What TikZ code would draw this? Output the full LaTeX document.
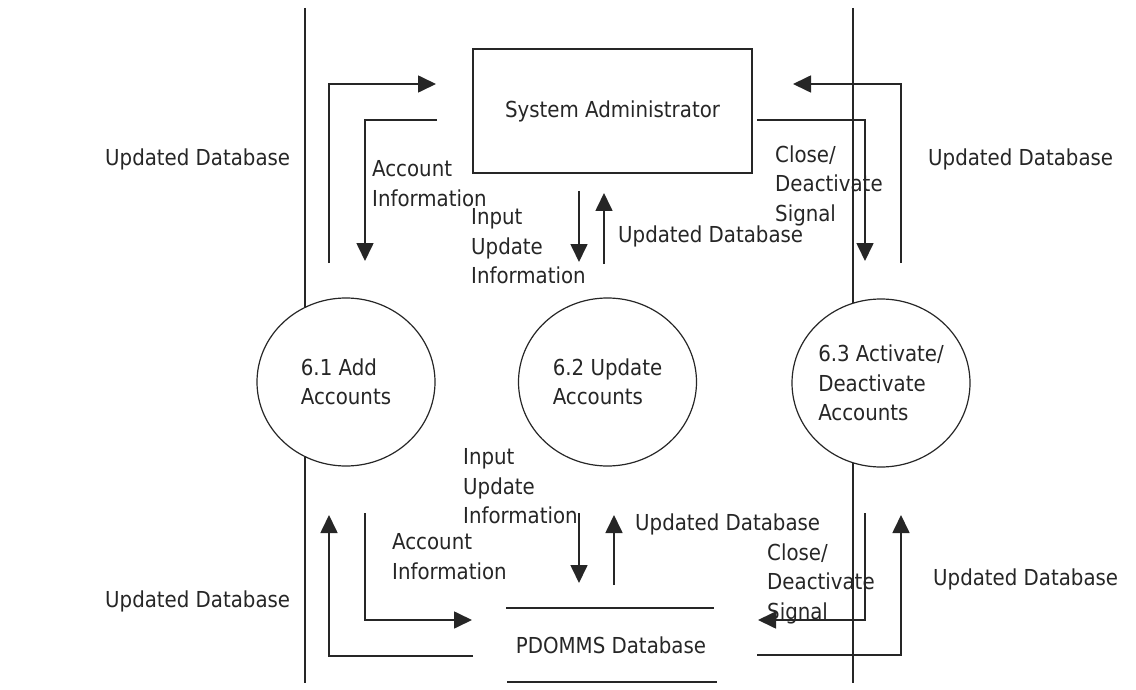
\documentclass[tikz,border=0pt]{standalone}
\usepackage{fontspec}
\setmainfont{DejaVu Sans Condensed}
\usetikzlibrary{arrows.meta,shapes.geometric}
\definecolor{ink}{HTML}{262626}
\begin{document}
\begin{tikzpicture}[x=1pt,y=-1pt,
  flow/.style={draw=ink,line width=1.7pt,-{Triangle[length=18pt,width=17pt]}},
  bound/.style={draw=ink,line width=1.4pt},
  txt/.style={font=\fontsize{22}{29.5}\selectfont,text=ink,inner sep=0pt,align=left},
  proc/.style={ellipse,draw=ink,line width=1.2pt,fill=white,minimum width=178pt,minimum height=168pt,inner sep=0pt,font=\fontsize{22}{29.5}\selectfont,align=left,text=ink},
  ent/.style={rectangle,draw=ink,line width=1.4pt,minimum width=279pt,minimum height=124pt,inner sep=0pt,font=\fontsize{22}{29.5}\selectfont,text=ink},
  store/.style={draw=ink,line width=1.6pt}
  ]
\useasboundingbox (0,0) rectangle (1136,690);
% boundary lines
\coordinate (bl1) at (305,8);
\coordinate (bl2) at (305,683);
\coordinate (br1) at (853,8);
\coordinate (br2) at (853,683);
\draw[bound] (bl1) -- (bl2);
\draw[bound] (br1) -- (br2);
% nodes
\node[ent] (sa) at (612.5,111) {System Administrator};
\node[proc] (p1) at (346,382) {6.1 Add\\Accounts};
\node[proc] (p2) at (607.5,382) {6.2 Update\\Accounts};
\node[proc] (p3) at (881,383) {6.3 Activate/\\Deactivate\\Accounts};
\node[txt] (db) at (611,645) {PDOMMS Database};
\coordinate (dbt1) at (506,608);
\coordinate (dbt2) at (714,608);
\coordinate (dbb1) at (507,682);
\coordinate (dbb2) at (717,682);
\draw[store] (dbt1) -- (dbt2);
\draw[store] (dbb1) -- (dbb2);
% flow end points
\coordinate (a1s) at (329,263); \coordinate (a1e) at (436,84);
\coordinate (a2s) at (437,120); \coordinate (a2e) at (365,261);
\coordinate (a3s) at (579,191); \coordinate (a3e) at (579,262);
\coordinate (a4s) at (604,264); \coordinate (a4e) at (604,193);
\coordinate (a5s) at (757,120); \coordinate (a5e) at (865,261);
\coordinate (a6s) at (901,263); \coordinate (a6e) at (793,84);
\coordinate (b1s) at (473,656); \coordinate (b1e) at (329,515);
\coordinate (b2s) at (365,513); \coordinate (b2e) at (472,620);
\coordinate (b3s) at (579,513); \coordinate (b3e) at (579,583);
\coordinate (b4s) at (614,585); \coordinate (b4e) at (614,515);
\coordinate (b5s) at (865,513); \coordinate (b5e) at (758,620);
\coordinate (b6s) at (757,655); \coordinate (b6e) at (901,515);
\draw[flow] (a1s) |- (a1e);
\draw[flow] (a2s) -| (a2e);
\draw[flow] (a3s) -- (a3e);
\draw[flow] (a4s) -- (a4e);
\draw[flow] (a5s) -| (a5e);
\draw[flow] (a6s) |- (a6e);
\draw[flow] (b1s) -| (b1e);
\draw[flow] (b2s) |- (b2e);
\draw[flow] (b3s) -- (b3e);
\draw[flow] (b4s) -- (b4e);
\draw[flow] (b5s) |- (b5e);
\draw[flow] (b6s) -| (b6e);
% labels
\node[txt,anchor=base west] (l1) at (105,166) {Updated Database};
\node[txt,anchor=base west] (l2) at (928,166) {Updated Database};
\node[txt,anchor=base west] (l3) at (105,607) {Updated Database};
\node[txt,anchor=base west] (l4) at (933,585) {Updated Database};
\node[txt,anchor=north west] (l5) at (372,160.5) {Account\\Information};
\node[txt,anchor=north west] (l6) at (471,208.5) {Input\\Update\\Information};
\node[txt,anchor=base west] (l7) at (618,242) {Updated Database};
\node[txt,anchor=north west] (l8) at (775,145.5) {Close/\\Deactivate\\Signal};
\node[txt,anchor=north west] (l9) at (463,448.5) {Input\\Update\\Information};
\node[txt,anchor=north west] (l10) at (392,533.5) {Account\\Information};
\node[txt,anchor=base west] (l11) at (635,530) {Updated Database};
\node[txt,anchor=north west] (l12) at (767,543.5) {Close/\\Deactivate\\Signal};
\end{tikzpicture}
\end{document}
